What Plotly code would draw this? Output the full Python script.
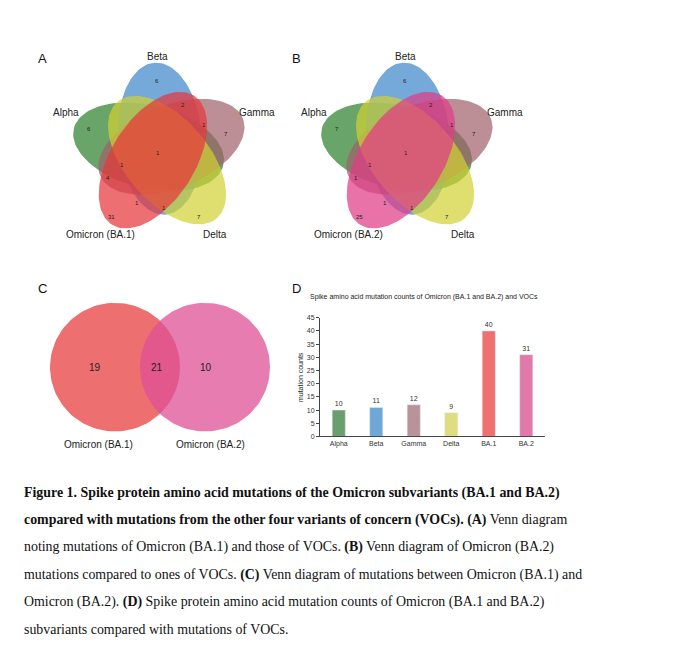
import numpy as np
import plotly.graph_objects as go

# panel A / B venn data
sets_a = ["Alpha", "Beta", "Gamma", "Delta", "Omicron (BA.1)"]
sets_b = ["Alpha", "Beta", "Gamma", "Delta", "Omicron (BA.2)"]
counts_a = [6, 6, 2, 1, 7, 1, 1, 4, 1, 1, 31, 7]
counts_b = [7, 6, 2, 1, 7, 1, 1, 1, 1, 1, 25, 7]
# panel C
c_counts = [19, 21, 10]
c_labels = ["Omicron (BA.1)", "Omicron (BA.2)"]
# panel D
bar_cats = ["Alpha", "Beta", "Gamma", "Delta", "BA.1", "BA.2"]
bar_vals = [10, 11, 12, 9, 40, 31]

venn_cols = ["rgba(55,135,55,0.75)", "rgba(70,140,205,0.75)", "rgba(160,95,105,0.7)",
             "rgba(210,210,50,0.7)"]
om_cols = {"A": "rgba(232,55,60,0.72)", "B": "rgba(225,60,135,0.72)"}
bar_cols = ["#6a9e6e", "#6fa8d6", "#b8949a", "#dede80", "#ee7070", "#e07aaa"]

OFF = 8  # page body margin

fig = go.Figure()

def ellipse(cx, cy, a, b, ang):
    t = np.linspace(0, 2 * np.pi, 120)
    ca, sa = np.cos(np.radians(ang)), np.sin(np.radians(ang))
    x = a * np.cos(t) * ca - b * np.sin(t) * sa
    y = a * np.cos(t) * sa + b * np.sin(t) * ca
    return cx + x, cy - y

# where each number sits, relative to the venn centre (pixels)
num_pos = [(-71, -22), (-3, -70), (23, -46), (44, -26), (66, -17), (-2, 3), (-38, 15),
           (-52, 28), (-23, 53), (4, 58), (-49, 67), (39, 67)]
lab_pos = [(-94, -38), (-3, -95), (97, -38), (55, 85), (-60, 85)]

def venn(cx, cy, names, counts, ocol):
    cols = venn_cols + [ocol]
    for i, name in enumerate(names):
        th = [162, 90, 18, -54, -126][i]
        ex = cx + 12 * np.cos(np.radians(th))
        ey = cy - 12 * np.sin(np.radians(th))
        x, y = ellipse(ex, ey, 77, 42, th + 4)
        fig.add_trace(go.Scatter(x=x, y=y, fill="toself", fillcolor=cols[i], mode="lines",
                                 line=dict(width=0), hoverinfo="skip", showlegend=False))
        fig.add_annotation(x=cx + lab_pos[i][0], y=cy + lab_pos[i][1], text=name, showarrow=False,
                           font=dict(size=10, color="#222"))
    for (dx, dy), v in zip(num_pos, counts):
        fig.add_annotation(x=cx + dx, y=cy + dy, text=str(v), showarrow=False,
                           font=dict(size=6, color="#222"))

venn(160, 148, sets_a, counts_a, om_cols["A"])
venn(408, 148, sets_b, counts_b, om_cols["B"])

# panel C
for cx, col in [(115, "rgba(235,95,95,0.9)"), (205, "rgba(222,80,150,0.75)")]:
    x, y = ellipse(cx, 367, 65, 65, 0)
    fig.add_trace(go.Scatter(x=x, y=y, fill="toself", fillcolor=col, mode="lines",
                             line=dict(width=0), hoverinfo="skip", showlegend=False))
for x, v in zip([95, 157, 206], c_counts):
    fig.add_annotation(x=x, y=367, text=str(v), showarrow=False, font=dict(size=10, color="#222"))
for x, t in zip([98, 210], c_labels):
    fig.add_annotation(x=x, y=445, text=t, showarrow=False, font=dict(size=10, color="#222"))

for x, y, t in [(42, 55, "A"), (296, 55, "B"), (42, 287, "C"), (296, 287, "D")]:
    fig.add_annotation(x=x, y=y, text=t, showarrow=False, font=dict(size=13, color="#111"))

# panel D bars
fig.add_trace(go.Bar(x=bar_cats, y=bar_vals, marker_color=bar_cols, width=0.35,
                     text=bar_vals, textposition="outside", textfont=dict(size=7, color="#333"),
                     cliponaxis=False, xaxis="x2", yaxis="y2", showlegend=False))
fig.add_annotation(x=424, y=296, text="Spike amino acid mutation counts of Omicron (BA.1 and BA.2) and VOCs",
                   showarrow=False, font=dict(size=7, color="#222"))
fig.add_annotation(x=300, y=377, text="mutation counts", textangle=-90, showarrow=False,
                   font=dict(size=7, color="#222"))

# caption
cap = [
    "<b>Figure 1. Spike protein amino acid mutations of the Omicron subvariants (BA.1 and BA.2)</b>",
    "<b>compared with mutations from the other four variants of concern (VOCs). (A)</b> Venn diagram",
    "noting mutations of Omicron (BA.1) and those of VOCs. <b>(B)</b> Venn diagram of Omicron (BA.2)",
    "mutations compared to ones of VOCs. <b>(C)</b> Venn diagram of mutations between Omicron (BA.1) and",
    "Omicron (BA.2). <b>(D)</b> Spike protein amino acid mutation counts of Omicron (BA.1 and BA.2)",
    "subvariants compared with mutations of VOCs.",
]
for i, line in enumerate(cap):
    fig.add_annotation(x=22, y=494 + 27.6 * i, text=line, showarrow=False, xanchor="left",
                       font=dict(family="Liberation Serif", size=13.9, color="#111"))

W, H = 680, 658
fig.update_layout(
    width=W, height=H, margin=dict(l=0, r=0, t=0, b=0),
    paper_bgcolor="white", plot_bgcolor="rgba(0,0,0,0)",
    font=dict(family="Liberation Sans"),
    xaxis=dict(range=[OFF, W + OFF], visible=False, domain=[0, 1]),
    yaxis=dict(range=[H + OFF, OFF], visible=False, domain=[0, 1]),
    xaxis2=dict(domain=[(320 - OFF) / W, (545 - OFF) / W], anchor="y2", showline=True,
                linecolor="#444", ticks="", tickfont=dict(size=7, color="#333"), showgrid=False),
    yaxis2=dict(domain=[1 - (437 - OFF) / H, 1 - (317 - OFF) / H], anchor="x2", range=[0, 45],
                dtick=5, showline=True, linecolor="#444", ticks="outside", ticklen=3,
                tickfont=dict(size=7, color="#333"), showgrid=False, zeroline=False),
)

fig.write_html("out.html")
